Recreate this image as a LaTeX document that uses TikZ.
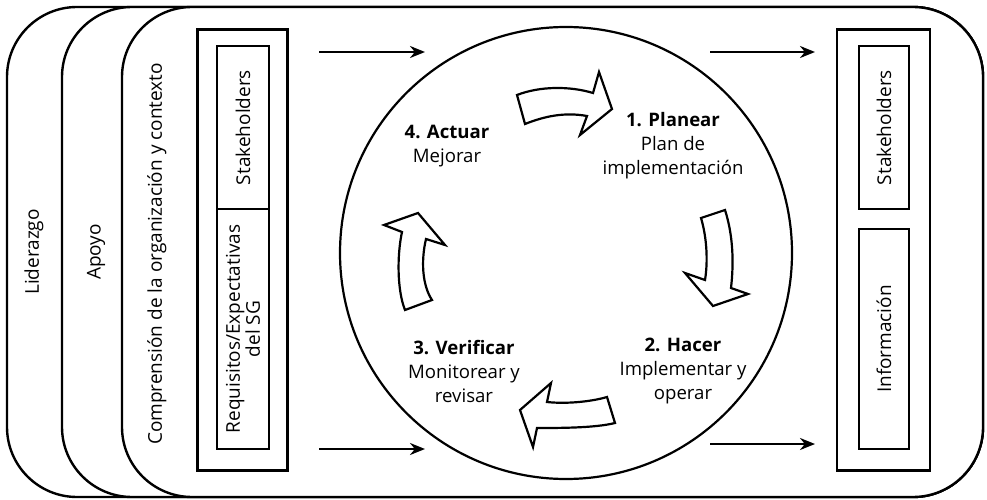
\documentclass[tikz,border=0pt]{standalone}
\usepackage{fontspec}
\setmainfont{Open Sans}
\usetikzlibrary{shapes, arrows, arrows.meta}

\begin{document}
\begin{tikzpicture}[x=1pt, y=-1pt]

\tikzstyle{layer} = [draw, line width=2.4pt, fill=white, rounded corners=70pt]
\tikzstyle{frame} = [draw, line width=2.2pt, minimum width=90pt, minimum height=441pt]
\tikzstyle{box} = [draw, line width=2.2pt, rotate=90, minimum height=52pt, inner sep=0pt, align=center, font=\fontsize{19}{20}\selectfont]
\tikzstyle{label} = [rotate=90, font=\fontsize{19}{20}\selectfont]
\tikzstyle{phase} = [align=center, font=\fontsize{18.6}{24}\selectfont]
\tikzstyle{arrow} = [line width=2.4pt, ->, >={Stealth[length=15pt, width=12pt]}]
\tikzstyle{turn} = [draw, line width=2.2pt, fill=white, line join=miter]

\useasboundingbox (0,0) rectangle (987,500);

% capas
\draw [layer] (7,7) rectangle (983,497);
\draw [layer] (62,7) rectangle (983,497);
\draw [layer] (122,7) rectangle (983,497);

\node (liderazgo) [label] at (34,252) {Liderazgo};
\node (apoyo) [label] at (96,252) {Apoyo};
\node (contexto) [label] at (157,254) {Comprensión de la organización y contexto};

% entradas
\node (entradas) [frame] at (242.5,250) {};
\node (stakeIn) [box, minimum width=163pt] at (243,127.5) {Stakeholders};
\node (requisitos) [box, minimum width=240pt] at (243,329) {Requisitos/Expectativas\\del SG};

% salidas
\node (salidas) [frame, minimum width=93pt] at (883.5,250) {};
\node (stakeOut) [box, minimum width=163pt, minimum height=50pt] at (884,127.5) {Stakeholders};
\node (informacion) [box, minimum width=220pt, minimum height=50pt] at (884,339) {Información};

% ciclo
\node (ciclo) [draw, circle, line width=2.2pt, minimum size=452pt] at (566,253) {};

\node (planear) [phase] at (673,146) {\textbf{1. Planear}\\Plan de\\implementación};
\node (hacer) [phase] at (683,371) {\textbf{2. Hacer}\\Implementar y\\operar};
\node (verificar) [phase] at (464,371) {\textbf{3. Verificar}\\Monitorear y\\revisar};
\node (actuar) [phase] at (447,146) {\textbf{4. Actuar}\\Mejorar};

\draw [turn] (517,95) .. controls (540,86) and (570,86) .. (593,93) -- (599,72) -- (612,109) -- (580,135) -- (587,116) .. controls (565,112) and (545,116) .. (525,124) -- cycle;
\draw [turn] (701,218) -- (725,210) .. controls (733,235) and (734,262) .. (731,288) -- (748,294) -- (713,306) -- (685,273) -- (705,280) .. controls (708,262) and (707,238) .. (701,218) -- cycle;
\draw [turn] (607,397) .. controls (590,402) and (565,404) .. (547,402) -- (551,383) -- (520,410) -- (533,447) -- (537,428) .. controls (560,428) and (595,428) .. (615,423) -- cycle;
\draw [turn] (405,310) .. controls (397,290) and (397,255) .. (402,232) -- (384,225) -- (418,213) -- (445,245) -- (426,239) .. controls (421,260) and (422,285) .. (432,300) -- cycle;

% flechas
\coordinate (inTop) at (319,52);
\coordinate (inTopEnd) at (425,52);
\coordinate (inBot) at (319,449);
\coordinate (inBotEnd) at (425,449);
\coordinate (outTop) at (710,52);
\coordinate (outTopEnd) at (815,52);
\coordinate (outBot) at (710,444);
\coordinate (outBotEnd) at (815,444);

\draw [arrow] (inTop) -- (inTopEnd);
\draw [arrow] (inBot) -- (inBotEnd);
\draw [arrow] (outTop) -- (outTopEnd);
\draw [arrow] (outBot) -- (outBotEnd);

\end{tikzpicture}
\end{document}
